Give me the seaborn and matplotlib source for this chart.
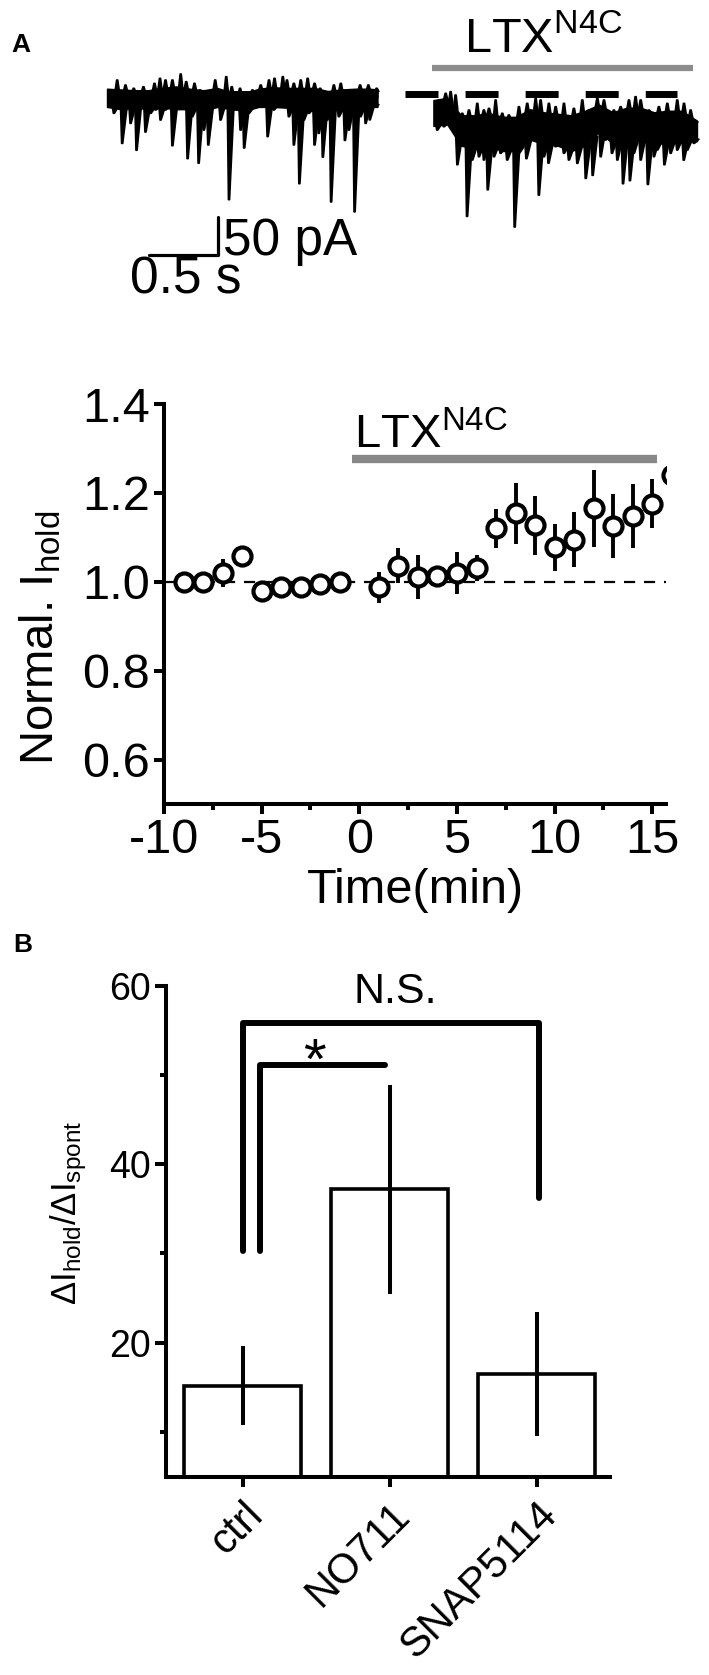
import numpy as np
import pandas as pd
import matplotlib
matplotlib.use('Agg')
import matplotlib.pyplot as plt
from matplotlib.collections import PolyCollection
import seaborn as sns

# ---- Data ----
# Panel A, top: example traces (time in s, current in pA, 0 = baseline)
# solid core of the noise band
left_core_t = [0.0, 0.1, 0.2, 0.3, 0.4, 0.5, 0.6, 0.7, 0.8, 0.9, 1.0, 1.1, 1.2, 1.3, 1.4, 1.5, 1.6, 1.7, 1.8, 1.9, 1.96]
left_core_top = [7, 6, 5, 5, 8, 10, 7, 5, 8, 2, 1, 7, 9, 8, 8, 8, 4, 6, 7, 7, 6]
left_core_bot = [-17, -20, -18, -20, -18, -20, -20, -22, -17, -20, -22, -17, -17, -18, -22, -22, -20, -22, -20, -17, -17]
# upward noise peaks
left_up_t = [0.07, 0.13, 0.19, 0.26, 0.34, 0.38, 0.42, 0.47, 0.53, 0.57, 0.63, 0.67, 0.78, 0.86, 0.90,
             0.96, 1.05, 1.11, 1.17, 1.21, 1.27, 1.30, 1.35, 1.40, 1.45, 1.50, 1.54, 1.64, 1.69, 1.75,
             1.83, 1.89, 1.95]
left_up_amp = [18.4, 11.8, 7.5, 9.6, 14.0, 20.6, 18.4, 18.4, 26.3, 16.2, 14.0, 5.3, 18.4, 22.8, 9.6,
               7.5, 5.3, 11.8, 18.4, 20.6, 22.8, 18.4, 14.0, 18.4, 20.6, 14.0, 7.5, 11.8, 14.0, 5.3,
               11.8, 11.8, 7.5]
# downward events (large ones and smaller dips)
left_dip_t = [0.106, 0.21, 0.275, 0.47, 0.58, 0.66, 0.73, 0.88, 0.99, 1.16, 1.35, 1.39, 1.50, 1.56,
              1.62, 1.72, 1.79, 1.90,
              0.046, 0.13, 0.167, 0.239, 0.312, 0.348, 0.384, 0.42, 0.529, 0.614, 0.65, 0.698, 0.771,
              0.819, 0.915, 0.964, 1.024, 1.085, 1.205, 1.266, 1.314, 1.423, 1.459, 1.531, 1.592,
              1.676, 1.749, 1.833, 1.87, 1.93]
left_dip_amp = [-65, -74, -50, -68, -85, -91, -67, -139, -71, -56, -67, -118, -67, -83, -142, -61, -155, -34,
                -25.4, -21.0, -38.6, -16.7, -25.4, -21.0, -34.2, -21.0, -16.7, -29.8, -12.3, -47.4, -16.7,
                -34.2, -21.0, -47.4, -25.4, -12.3, -21.0, -16.7, -29.8, -34.2, -25.4, -51.7, -34.2,
                -29.8, -47.4, -29.8, -38.6, -16.7]

right_core_t = [0.0, 0.1, 0.2, 0.3, 0.4, 0.5, 0.6, 0.7, 0.8, 0.9, 1.0, 1.1, 1.2, 1.3, 1.4, 1.5, 1.6, 1.7, 1.8, 1.91]
right_core_top = [-8, -5, -28, -28, -25, -30, -30, -20, -24, -26, -28, -22, -14, -24, -18, -18, -24, -22, -22, -35]
right_core_bot = [-42, -40, -68, -72, -68, -75, -75, -60, -66, -68, -75, -68, -50, -65, -62, -62, -66, -64, -64, -62]
right_up_t = [0.036, 0.085, 0.121, 0.157, 0.205, 0.254, 0.314, 0.362, 0.399, 0.447, 0.495, 0.543,
              0.616, 0.676, 0.737, 0.773, 0.833, 0.882, 0.942, 1.014, 1.075, 1.123, 1.184, 1.232,
              1.304, 1.353, 1.413, 1.461, 1.498, 1.558, 1.63, 1.691, 1.763, 1.812, 1.860, 1.896]
right_up_amp = [-7.9, 0.9, 3.1, -1.3, -25.4, -21.1, -12.3, -21.1, -18.9, -7.9, -25.4, -27.6,
                -16.7, -12.3, -5.7, -7.9, -12.3, -16.7, -12.3, -18.9, -7.9, -21.1, -5.7, -7.9,
                -21.1, -16.7, -7.9, -3.5, -7.9, -21.1, -16.7, -12.3, -7.9, -12.3, -21.1, -43.0]
right_dip_t = [0.17, 0.24, 0.39, 0.585, 0.67, 0.76, 0.83, 1.10, 1.15, 1.29, 1.37, 1.42, 1.55, 1.67, 1.81,
               0.024, 0.072, 0.278, 0.326, 0.362, 0.435, 0.483, 0.531, 0.616, 0.713, 0.797, 0.882,
               0.942, 0.978, 1.039, 1.208, 1.244, 1.329, 1.449, 1.498, 1.594, 1.618, 1.715, 1.763,
               1.836, 1.884]
right_dip_amp = [-93, -161, -126, -175, -85, -133, -91, -111, -107, -78, -118, -114, -119, -93, -87,
                 -47.4, -43.0, -86.8, -82.5, -86.8, -82.5, -78.0, -86.8, -78.0, -60.5, -82.5, -69.3,
                 -78.0, -86.8, -91.2, -82.5, -60.5, -86.8, -78.0, -86.8, -82.5, -73.7, -78.0, -73.7,
                 -73.7, -64.9]
right_start = 2.365  # s, where the LTX trace starts on the shared time axis

# Panel A, bottom: normalised holding current
time_min = [-9, -8, -7, -6, -5, -4, -3, -2, -1, 1, 2, 3, 4, 5, 6, 7, 8, 9, 10, 11, 12, 13, 14, 15, 16]
norm_ihold = [1.00, 1.00, 1.02, 1.057, 0.979, 0.988, 0.988, 0.995, 1.00, 0.988, 1.036, 1.011, 1.012,
              1.02, 1.031, 1.12, 1.154, 1.127, 1.078, 1.095, 1.165, 1.125, 1.148, 1.176, 1.24]
sem_ihold = [0.02, 0.01, 0.032, 0.01, 0.015, 0.01, 0.01, 0.01, 0.01, 0.035, 0.039, 0.05, 0.01,
             0.048, 0.03, 0.044, 0.069, 0.066, 0.053, 0.062, 0.087, 0.072, 0.072, 0.056, 0.04]

# Panel B: bar chart
groups = ['ctrl', 'NO711', 'SNAP5114']
ratio_mean = [15.2, 37.2, 16.5]
ratio_sem = [4.4, 11.7, 6.9]

sns.set_theme(style='white')
plt.rcParams['font.family'] = ['Liberation Sans', 'DejaVu Sans']
plt.rcParams['mathtext.default'] = 'regular'
for key in ['text.color', 'axes.labelcolor', 'xtick.color', 'ytick.color', 'axes.edgecolor']:
    plt.rcParams[key] = 'black'

W, H = 709, 1675
fig = plt.figure(figsize=(W / 100, H / 100), dpi=100)


def px_axes(left, top, right, bottom):
    return fig.add_axes([left / W, 1 - bottom / H, (right - left) / W, (bottom - top) / H])


# ---- Traces ----
ax_tr = px_axes(100, 0, 709, 310)
ax_tr.set_xlim(-0.0507, 4.362)
ax_tr.set_ylim(-284.2, 123.7)
ax_tr.axis('off')


def event_shapes(ts, base, amps, offset, rise, decay):
    # each event: fast rise to its peak, slower return to the band
    polys = []
    for t, b, a in zip(ts, base, amps):
        polys.append([(t + offset - rise, b), (t + offset, a), (t + offset + 0.008, a), (t + offset + decay, b)])
    return PolyCollection(polys, facecolor='black', edgecolor='black', linewidth=1.2)


def draw_trace(offset, core_t, core_top, core_bot, up_t, up_amp, dip_t, dip_amp):
    ts = [t + offset for t in core_t]
    ax_tr.fill_between(ts, core_top, core_bot, color='black', lw=1)
    up_base = np.interp(up_t, core_t, core_top) - 3
    ax_tr.add_collection(event_shapes(up_t, up_base, up_amp, offset, 0.012, 0.02))
    dip_base = np.interp(dip_t, core_t, core_bot) + 3
    ax_tr.add_collection(event_shapes(dip_t, dip_base, dip_amp, offset, 0.008, 0.04))


draw_trace(0, left_core_t, left_core_top, left_core_bot, left_up_t, left_up_amp, left_dip_t, left_dip_amp)
ax_tr.plot([0, 1.964], [0, 0], color='black', lw=5, solid_capstyle='butt')

draw_trace(right_start, right_core_t, right_core_top, right_core_bot, right_up_t, right_up_amp,
           right_dip_t, right_dip_amp)
ax_tr.plot([2.159, 4.13], [0, 0], color='black', lw=5, dashes=(4.75, 3.9), dash_capstyle='butt')
ax_tr.plot([2.355, 4.246], [34.2, 34.2], color='#8c8c8c', lw=4.5, solid_capstyle='butt')
ax_tr.text(2.587, 55.3, r'LTX$^{N4C}$', fontsize=35, ha='left', va='baseline')

# scale bar
ax_tr.plot([0.304, 0.804, 0.804], [-211.8, -211.8, -161.8], color='black', lw=2.3)
ax_tr.text(0.84, -211.8, '50 pA', fontsize=37, ha='left', va='baseline')
ax_tr.text(0.167, -262, '0.5 s', fontsize=37, ha='left', va='baseline')

# ---- Time course ----
ax_t = px_axes(164, 404, 666, 804)
ax_t.plot([-10, 15.7], [1.0, 1.0], color='black', lw=1.6, dashes=(5, 4), clip_on=False, zorder=1)
ax_t.errorbar(time_min, norm_ihold, yerr=sem_ihold, fmt='o', color='black', ecolor='black',
              elinewidth=2.8, capsize=0, ms=13, mfc='white', mec='black', mew=3, zorder=3)
ax_t.plot([-0.4, 15.26], [1.276, 1.276], color='#888888', lw=6, solid_capstyle='butt', clip_on=False)
ax_t.text(-0.25, 1.30, r'LTX$^{N4C}$', fontsize=34, ha='left', va='baseline')
ax_t.set_xlim(-10, 15.7)
ax_t.set_ylim(0.5, 1.4)
ax_t.set_xticks([-10, -5, 0, 5, 10, 15])
ax_t.set_xticks([-7.5, -2.5, 2.5, 7.5, 12.5], minor=True)
ax_t.set_yticks([0.6, 0.8, 1.0, 1.2, 1.4])
ax_t.set_yticklabels(['0.6', '0.8', '1.0', '1.2', '1.4'])
ax_t.set_xticklabels(['-10', '-5', '0', '5', '10', '15'])
sns.despine(ax=ax_t)
for s in ['left', 'bottom']:
    ax_t.spines[s].set_linewidth(2.9)
ax_t.tick_params(axis='both', which='major', length=7, width=2.9, labelsize=35, pad=3,
                 left=True, bottom=True)
ax_t.tick_params(axis='x', which='minor', length=4.5, width=2.9, bottom=True)
fig.text(415 / W, 1 - 890 / H, 'Time(min)', fontsize=35, ha='center', va='center')
fig.text(41 / W, 1 - 638 / H, r'Normal. I$_{hold}$', fontsize=34, rotation=90, ha='center', va='center')

# ---- Bar chart ----
ax_b = px_axes(165.7, 985.6, 610, 1476.7)
df = pd.DataFrame({'group': groups, 'ratio': ratio_mean})
sns.barplot(data=df, x='group', y='ratio', ax=ax_b, color='white', saturation=1,
            edgecolor='black', linewidth=2.6, width=0.8, errorbar=None)
ax_b.errorbar(range(len(groups)), ratio_mean, yerr=ratio_sem, fmt='none', ecolor='black',
              elinewidth=2.9, capsize=0)
ax_b.set_xlim(-0.524, 2.5)
ax_b.set_ylim(5, 60)
ax_b.set_yticks([20, 40, 60])
ax_b.set_yticks([10, 30, 50], minor=True)
ax_b.set_xlabel('')
ax_b.set_ylabel('')
sns.despine(ax=ax_b)
for s in ['left', 'bottom']:
    ax_b.spines[s].set_linewidth(2.9)
ax_b.tick_params(axis='y', which='major', length=7.7, width=2.9, labelsize=27, pad=3, left=True)
ax_b.tick_params(axis='y', which='minor', length=4.5, width=2.9, left=True)
ax_b.tick_params(axis='x', which='major', length=7, width=2.9, labelsize=30, pad=6, bottom=True)
for lab in ax_b.get_xticklabels():
    lab.set_rotation(45)
    lab.set_ha('right')
    lab.set_rotation_mode('anchor')

# significance brackets
ax_b.plot([0.0, 0.0, 2.02, 2.02], [30.3, 55.8, 55.8, 36.2], color='black', lw=4.3, clip_on=False)
ax_b.plot([0.12, 0.12, 0.97], [30.3, 51.1, 51.1], color='black', lw=4.3, clip_on=False)
ax_b.text(1.04, 57.0, 'N.S.', fontsize=31, ha='center', va='bottom')
ax_b.text(0.49, 49.6, '*', fontsize=42, ha='center', va='baseline')
fig.text(69 / W, 1 - 1213 / H, 'ΔI$_{hold}$/ΔI$_{spont}$', fontsize=25,
         rotation=90, ha='center', va='center')

# panel letters
fig.text(11 / W, 1 - 52 / H, 'A', fontsize=19, fontweight='bold', ha='left', va='baseline')
fig.text(13 / W, 1 - 952 / H, 'B', fontsize=19, fontweight='bold', ha='left', va='baseline')

fig.savefig('out.png', dpi=100)
